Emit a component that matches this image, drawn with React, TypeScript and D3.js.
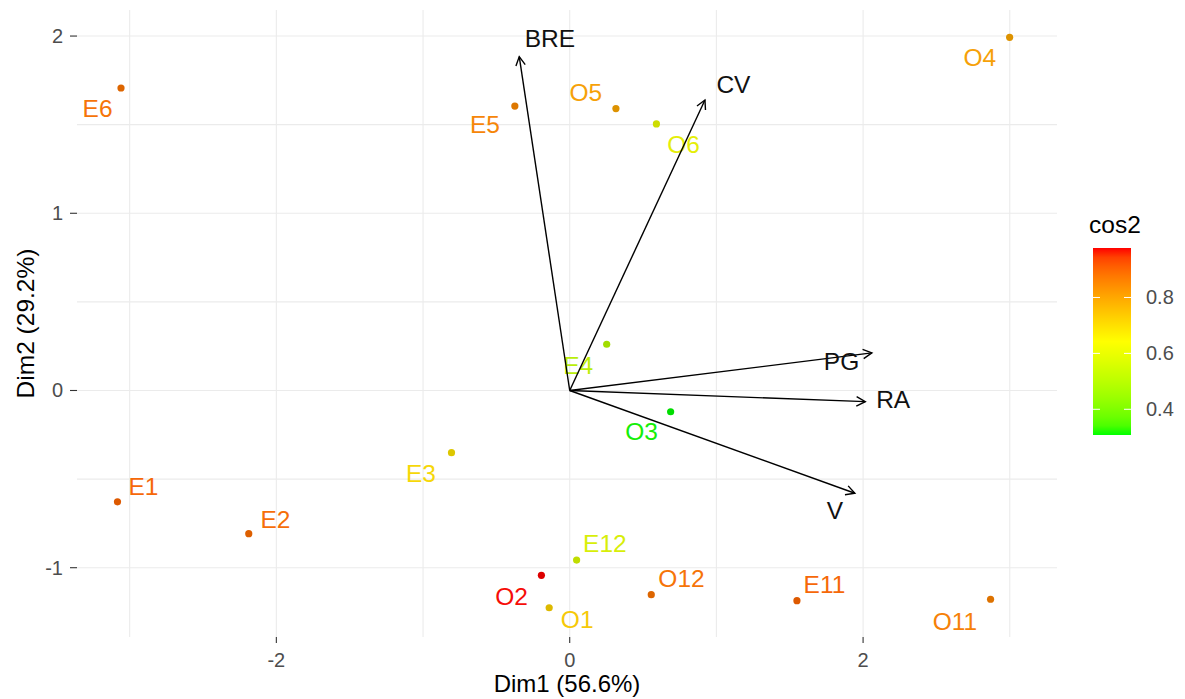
import React from "react";
import * as d3 from "d3";

// ---- data ----
const indNames = ["E1", "E2", "E3", "E4", "E5", "E6", "E11", "E12", "O1", "O2", "O3", "O4", "O5", "O6", "O11", "O12"];
const indDim1 = [-3.083, -2.188, -0.806, 0.252, -0.374, -3.059, 1.549, 0.047, -0.14, -0.193, 0.688, 2.999, 0.315, 0.591, 2.869, 0.556];
const indDim2 = [-0.628, -0.808, -0.351, 0.261, 1.605, 1.707, -1.186, -0.957, -1.226, -1.043, -0.12, 1.993, 1.591, 1.504, -1.178, -1.152];
const indCos2 = [0.9, 0.89, 0.69, 0.5, 0.85, 0.88, 0.9, 0.57, 0.72, 0.977, 0.308, 0.8, 0.8, 0.6, 0.86, 0.88];
// label anchors (repelled positions, data units)
const indLabelDim1 = [-2.906, -2.006, -1.014, 0.058, -0.578, -3.219, 1.737, 0.24, 0.051, -0.396, 0.49, 2.796, 0.11, 0.776, 2.626, 0.762];
const indLabelDim2 = [-0.539, -0.725, -0.466, 0.144, 1.504, 1.594, -1.092, -0.859, -1.291, -1.16, -0.229, 1.882, 1.685, 1.391, -1.299, -1.058];

const varNames = ["BRE", "CV", "PG", "RA", "V"];
const varDim1 = [-0.344, 0.922, 2.06, 2.015, 1.944];
const varDim2 = [1.884, 1.639, 0.212, -0.063, -0.58];
const varLabelDim1 = [-0.135, 1.116, 1.853, 2.205, 1.808];
const varLabelDim2 = [1.988, 1.73, 0.163, -0.05, -0.674];

const xLimits = [-3.359, 3.322];
const yLimits = [-1.391, 2.147];
const xMajor = [-2, 0, 2];
const xMinor = [-3, -1, 1, 3];
const yMajor = [-1, 0, 1, 2];
const yMinor = [-0.5, 0.5, 1.5];
const cos2Range = [0.308, 0.977];
const legendTicks = [0.4, 0.6, 0.8];
const gradientColors = ["#00FF00", "#FFFF00", "#FF0000"];

const xTitle = "Dim1 (56.6%)";
const yTitle = "Dim2 (29.2%)";
const legendTitle = "cos2";

// ---- layout ----
const W = 1185;
const H = 699;
const panel = { left: 77, right: 1057, top: 10, bottom: 637 };
const FONT = "'Liberation Sans', Arial, Helvetica, sans-serif";

export default function App() {
  const x = d3.scaleLinear().domain(xLimits).range([panel.left, panel.right]);
  const y = d3.scaleLinear().domain(yLimits).range([panel.bottom, panel.top]);
  const mid = (cos2Range[0] + cos2Range[1]) / 2;
  const color = d3
    .scaleLinear<string>()
    .domain([cos2Range[0], mid, cos2Range[1]])
    .range(gradientColors)
    .interpolate(d3.interpolateLab);
  const pointColor = (v: number) => d3.color(color(v))!.darker(0.4).formatHex();
  const labelColor = (v: number) => d3.interpolateRgb(color(v), "#b07040")(0.12);

  const bar = { x: 1093, w: 38, top: 248, bottom: 435 };
  const ly = d3.scaleLinear().domain(cos2Range).range([bar.bottom, bar.top]);
  const stops = d3.range(0, 1.0001, 0.05).map((t) => ({
    off: t,
    col: color(cos2Range[0] + t * (cos2Range[1] - cos2Range[0])),
  }));

  const grid = "#EBEBEB";
  const ox = x(0);
  const oy = y(0);

  const arrowHead = (x1: number, y1: number, x2: number, y2: number) => {
    const ang = Math.atan2(y2 - y1, x2 - x1);
    const len = 10;
    const a = (28 * Math.PI) / 180;
    const p1 = [x2 - len * Math.cos(ang - a), y2 - len * Math.sin(ang - a)];
    const p2 = [x2 - len * Math.cos(ang + a), y2 - len * Math.sin(ang + a)];
    return `M${p1[0]},${p1[1]}L${x2},${y2}L${p2[0]},${p2[1]}`;
  };

  return (
    <svg
      width={W}
      height={H}
      style={{ position: "absolute", left: 0, top: 0, background: "#fff" }}
      fontFamily={FONT}
    >
      <rect width={W} height={H} fill="#fff" />
      {/* grid */}
      <g>
        {[...xMinor, ...xMajor].map((v) => (
          <line key={"gx" + v} x1={x(v)} x2={x(v)} y1={panel.top} y2={panel.bottom} stroke={grid} strokeWidth={1.1} />
        ))}
        {[...yMinor, ...yMajor].map((v) => (
          <line key={"gy" + v} x1={panel.left} x2={panel.right} y1={y(v)} y2={y(v)} stroke={grid} strokeWidth={1.1} />
        ))}
      </g>
      {/* axes ticks and labels */}
      <g fill="#4D4D4D" fontSize={20}>
        {xMajor.map((v) => (
          <g key={"xt" + v}>
            <line x1={x(v)} x2={x(v)} y1={panel.bottom} y2={panel.bottom + 6} stroke="#333" strokeWidth={1.1} />
            <text x={x(v)} y={667} textAnchor="middle">
              {v < 0 ? "-" + Math.abs(v) : String(v)}
            </text>
          </g>
        ))}
        {yMajor.map((v) => (
          <g key={"yt" + v}>
            <line x1={panel.left - 7} x2={panel.left} y1={y(v)} y2={y(v)} stroke="#333" strokeWidth={1.1} />
            <text x={63} y={y(v)} dy="0.35em" textAnchor="end">
              {v < 0 ? "-" + Math.abs(v) : String(v)}
            </text>
          </g>
        ))}
      </g>
      <text x={(panel.left + panel.right) / 2} y={692} textAnchor="middle" fontSize={24} fill="#000">
        {xTitle}
      </text>
      <text
        transform={`translate(34,${(panel.top + panel.bottom) / 2}) rotate(-90)`}
        textAnchor="middle"
        fontSize={24.5}
        fill="#000"
      >
        {yTitle}
      </text>
      {/* individuals */}
      <g>
        {indNames.map((n, i) => (
          <circle key={"p" + n} cx={x(indDim1[i])} cy={y(indDim2[i])} r={3.6} fill={pointColor(indCos2[i])} />
        ))}
        {indNames.map((n, i) => (
          <text
            key={"l" + n}
            x={x(indLabelDim1[i])}
            y={y(indLabelDim2[i])}
            dy="0.36em"
            textAnchor="middle"
            fontSize={24.5}
            fill={labelColor(indCos2[i])}
          >
            {n}
          </text>
        ))}
      </g>
      {/* variables */}
      <g stroke="#000" strokeWidth={1.4} fill="none">
        {varNames.map((n, i) => {
          const tx = x(varDim1[i]);
          const ty = y(varDim2[i]);
          return (
            <g key={"a" + n}>
              <line x1={ox} y1={oy} x2={tx} y2={ty} />
              <path d={arrowHead(ox, oy, tx, ty)} />
            </g>
          );
        })}
      </g>
      <g>
        {varNames.map((n, i) => (
          <text
            key={"vl" + n}
            x={x(varLabelDim1[i])}
            y={y(varLabelDim2[i])}
            dy="0.36em"
            textAnchor="middle"
            fontSize={24.5}
            fill="#111"
          >
            {n}
          </text>
        ))}
      </g>
      {/* legend */}
      <defs>
        <linearGradient id="cbar" x1="0" y1="1" x2="0" y2="0">
          {stops.map((s, i) => (
            <stop key={i} offset={s.off} stopColor={s.col} />
          ))}
        </linearGradient>
      </defs>
      <text x={1089} y={233} fontSize={24.5} fill="#000">
        {legendTitle}
      </text>
      <rect x={bar.x} y={bar.top} width={bar.w} height={bar.bottom - bar.top} fill="url(#cbar)" />
      {legendTicks.map((t) => (
        <g key={"lt" + t}>
          <line x1={bar.x} x2={bar.x + 7} y1={ly(t)} y2={ly(t)} stroke="#fff" strokeWidth={1} />
          <line x1={bar.x + bar.w - 7} x2={bar.x + bar.w} y1={ly(t)} y2={ly(t)} stroke="#fff" strokeWidth={1} />
          <text x={1146} y={ly(t)} dy="0.35em" fontSize={20} fill="#4D4D4D">
            {t.toFixed(1)}
          </text>
        </g>
      ))}
    </svg>
  );
}
